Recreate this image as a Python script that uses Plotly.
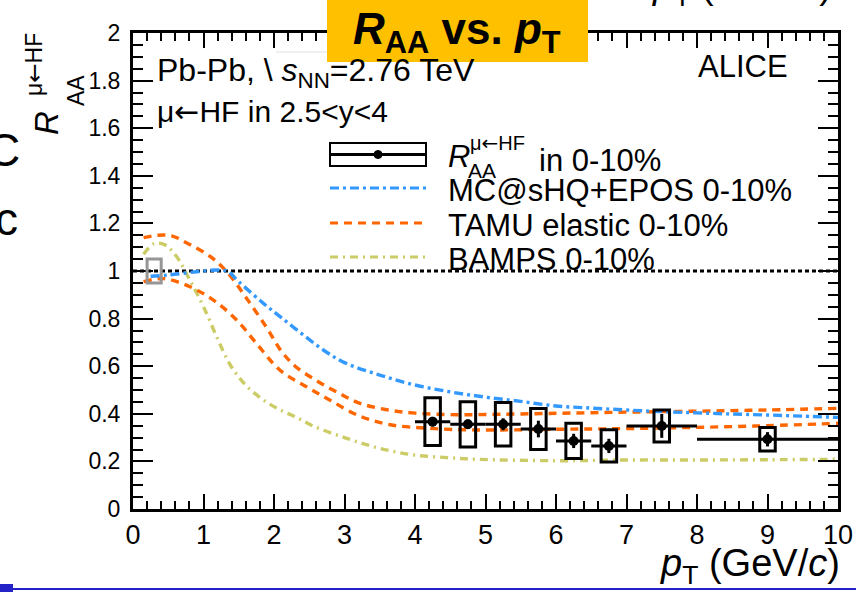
import plotly.graph_objects as go

# ---------------- data ----------------
pt = [4.25, 4.75, 5.25, 5.75, 6.25, 6.75, 7.5, 9.0]
pt_lo = [4.0, 4.5, 5.0, 5.5, 6.0, 6.5, 7.0, 8.0]
pt_hi = [4.5, 5.0, 5.5, 6.0, 6.5, 7.0, 8.0, 10.0]
raa = [0.367, 0.356, 0.356, 0.336, 0.286, 0.265, 0.349, 0.293]
stat = [0.02, 0.02, 0.025, 0.035, 0.03, 0.03, 0.05, 0.03]
syst = [0.100, 0.095, 0.091, 0.086, 0.074, 0.068, 0.067, 0.049]
syst_halfwidth = 0.11

norm_pt = [0.2, 0.4]
norm_raa = [0.95, 1.05]

mc_pt = [0.25, 0.5, 0.9, 1.2, 1.35, 1.5, 1.85, 2.1, 2.4, 2.7, 3.0, 3.5, 4.0, 4.5, 5.0, 5.5,
         6.0, 6.5, 7.0, 7.5, 8.0, 8.5, 9.0, 9.5, 10.0]
mc_raa = [0.978, 0.983, 0.997, 1.004, 0.997, 0.955, 0.864, 0.805, 0.735, 0.668, 0.615, 0.563,
          0.521, 0.492, 0.470, 0.452, 0.433, 0.424, 0.416, 0.409, 0.404, 0.399, 0.395, 0.390, 0.385]

tamu_up_pt = [0.15, 0.35, 0.55, 0.75, 1.1, 1.35, 1.6, 1.9, 2.1, 2.3, 2.6, 2.9, 3.2, 3.6, 4.0,
              4.6, 5.0, 6.0, 7.0, 8.0, 9.0, 10.0]
tamu_up_raa = [1.140, 1.150, 1.148, 1.120, 1.060, 0.990, 0.890, 0.760, 0.665, 0.600, 0.540,
               0.490, 0.446, 0.417, 0.403, 0.396, 0.397, 0.402, 0.407, 0.411, 0.416, 0.423]

tamu_lo_pt = [0.15, 0.43, 0.8, 1.14, 1.47, 1.75, 2.09, 2.46, 2.79, 3.22, 3.65, 4.2, 4.87,
              6.0, 7.0, 8.0, 9.0, 10.0]
tamu_lo_raa = [0.955, 0.968, 0.935, 0.878, 0.794, 0.696, 0.582, 0.514, 0.458, 0.390, 0.354,
               0.339, 0.332, 0.335, 0.338, 0.343, 0.350, 0.360]

bamps_pt = [0.15, 0.3, 0.45, 0.62, 0.81, 1.0, 1.2, 1.38, 1.6, 1.85, 2.09, 2.32, 2.56, 3.03,
            3.5, 3.98, 4.45, 4.87, 6.0, 7.0, 8.0, 9.0, 10.0]
bamps_raa = [1.070, 1.115, 1.110, 1.060, 0.960, 0.850, 0.715, 0.605, 0.520, 0.458, 0.416,
             0.385, 0.348, 0.297, 0.255, 0.227, 0.216, 0.209, 0.203, 0.206, 0.206, 0.207, 0.209]

x_ticks = [0, 1, 2, 3, 4, 5, 6, 7, 8, 9, 10]
y_ticks = [0, 0.2, 0.4, 0.6, 0.8, 1, 1.2, 1.4, 1.6, 1.8, 2]

legend_labels = ["MC@sHQ+EPOS 0-10%", "TAMU elastic 0-10%", "BAMPS 0-10%"]

# ---------------- styles ----------------
W, H = 856, 592
ML, MR, MT, MB = 133, 18, 33, 83
PW, PH = W - ML - MR, H - MT - MB
FONT = "Liberation Sans, Arial, Helvetica, sans-serif"
BLUE = "rgb(51,153,255)"
ORANGE = "rgb(255,102,0)"
OLIVE = "rgb(204,204,102)"
DASH_BLUE = "9px,4px,3px,4px"
DASH_ORANGE = "8px,6px"
DASH_OLIVE = "8px,5px,2px,5px"
ARROW = "<span style='font-family:DejaVu Sans'>←</span>"
MUHF = "μ" + ARROW + "HF"


def px(xp):
    return (xp - ML) / PW


def py(yp):
    return (H - MB - yp) / PH


fig = go.Figure()

# reference line at 1
fig.add_trace(go.Scatter(x=[x_ticks[0], x_ticks[-1]], y=[1, 1], mode="lines",
                         line=dict(color="black", width=3, dash="4px,3px"), hoverinfo="skip"))

# models
for xs, ys, col, dash in [(bamps_pt, bamps_raa, OLIVE, DASH_OLIVE),
                          (tamu_lo_pt, tamu_lo_raa, ORANGE, DASH_ORANGE),
                          (tamu_up_pt, tamu_up_raa, ORANGE, DASH_ORANGE),
                          (mc_pt, mc_raa, BLUE, DASH_BLUE)]:
    fig.add_trace(go.Scatter(x=xs, y=ys, mode="lines", line_shape="spline",
                             line=dict(color=col, width=3.4, dash=dash), hoverinfo="skip"))

# data points
fig.add_trace(go.Scatter(
    x=pt, y=raa, mode="markers",
    marker=dict(color="black", size=10, symbol="circle"),
    error_x=dict(type="data", symmetric=False,
                 array=[h - p for h, p in zip(pt_hi, pt)],
                 arrayminus=[p - l for p, l in zip(pt, pt_lo)],
                 color="black", thickness=3, width=0),
    error_y=dict(type="data", array=stat, color="black", thickness=3, width=0),
))

shapes = []
# systematic boxes
for p, r, s in zip(pt, raa, syst):
    shapes.append(dict(type="rect", xref="x", yref="y", x0=p - syst_halfwidth, x1=p + syst_halfwidth,
                       y0=r - s, y1=r + s, line=dict(color="black", width=3)))
# normalisation box
shapes.append(dict(type="rect", xref="x", yref="y", x0=norm_pt[0], x1=norm_pt[1],
                   y0=norm_raa[0], y1=norm_raa[1], line=dict(color="rgb(150,150,150)", width=3)))

# legend
lx0, lx1 = 330, 426
shapes.append(dict(type="rect", xref="paper", yref="paper", x0=px(lx0), x1=px(lx1),
                   y0=py(166), y1=py(143), line=dict(color="black", width=2)))
shapes.append(dict(type="line", xref="paper", yref="paper", x0=px(lx0), x1=px(lx1),
                   y0=py(154.5), y1=py(154.5), line=dict(color="black", width=3)))
shapes.append(dict(type="circle", xref="paper", yref="paper", x0=px(374), x1=px(382),
                   y0=py(158.5), y1=py(150.5), fillcolor="black", line=dict(color="black", width=1)))
leg_rows = [188, 223, 257]
for yy, col, dash in zip(leg_rows, [BLUE, ORANGE, OLIVE], [DASH_BLUE, DASH_ORANGE, DASH_OLIVE]):
    shapes.append(dict(type="line", xref="paper", yref="paper", x0=px(lx0), x1=px(lx1),
                       y0=py(yy), y1=py(yy), line=dict(color=col, width=3, dash=dash)))

# faint sqrt bar
shapes.append(dict(type="line", xref="paper", yref="paper", x0=px(276), x1=px(480),
                   y0=py(52), y1=py(52), line=dict(color="rgb(225,225,225)", width=1)))

# title box
shapes.append(dict(type="rect", xref="paper", yref="paper", x0=px(327), x1=px(588),
                   y0=py(62), y1=py(-2), fillcolor="rgb(255,192,0)", line=dict(width=0),
                   layer="above"))
# bottom blue slide line
shapes.append(dict(type="line", xref="paper", yref="paper", x0=px(0), x1=px(W),
                   y0=py(589), y1=py(589), line=dict(color="rgb(35,35,200)", width=2)))
shapes.append(dict(type="rect", xref="paper", yref="paper", x0=px(0), x1=px(13),
                   y0=py(592), y1=py(584), fillcolor="rgb(35,35,200)", line=dict(width=0)))

ann = []


def A(text, xp, yp, size, xanchor="left", yanchor="middle", font=FONT, angle=0, color="black"):
    ann.append(dict(text=text, xref="paper", yref="paper", x=px(xp), y=py(yp),
                    xanchor=xanchor, yanchor=yanchor, showarrow=False, textangle=angle,
                    font=dict(family=font, size=size, color=color)))


A("Pb-Pb, \\ <i>s</i><sub>NN</sub>=2.76 TeV", 155, 72, 32)
A(MUHF + " in 2.5<y<4", 155, 112, 30)
A("ALICE", 790, 67, 31, xanchor="right")

# legend text
A("<i>R</i>", 446, 156, 31)
A("AA", 466, 171, 21)
A(MUHF, 468, 143, 20)
A("in 0-10%", 537, 160, 31)
for yy, lab in zip(leg_rows, legend_labels):
    A(lab, 446, yy + 2, 31)

# y-axis title (stacked sub/superscript)
A("<i>R</i>", 46, 123, 33, xanchor="center", angle=-90)
A("AA", 76, 91, 23, xanchor="center", angle=-90)
A(MUHF, 34, 65, 23, xanchor="center", angle=-90)

# x-axis title
xt = "<i>p</i><sub>T</sub> (GeV/<i>c</i>)"
A(xt, 842, 566, 38, xanchor="right")
# cropped neighbouring title at the very top
A(xt, 834, -12, 38, xanchor="right")

# title box text
A("<b><i>R</i><sub>AA</sub> vs. <i>p</i><sub>T</sub></b>", 457, 32, 44, xanchor="center")

# stray slide letters on the left
A("C", 22, 150, 46, xanchor="right")
A("c", 20, 219, 46, xanchor="right")

fig.update_layout(
    width=W, height=H, margin=dict(l=ML, r=MR, t=MT, b=MB, pad=0, autoexpand=False),
    paper_bgcolor="white", plot_bgcolor="white", showlegend=False,
    shapes=shapes, annotations=ann,
    xaxis=dict(range=[0, 10], tickvals=x_ticks, ticktext=[str(v) for v in x_ticks],
               automargin=False,
               ticks="inside", ticklen=15, tickwidth=2, tickcolor="black",
               showline=True, linewidth=3, linecolor="black", mirror="ticks",
               showgrid=False, zeroline=False,
               minor=dict(dtick=0.2, ticks="inside", ticklen=8, tickwidth=2, tickcolor="black",
                          showgrid=False),
               tickfont=dict(family=FONT, size=27, color="black"), ticklabelstandoff=0),
    yaxis=dict(range=[0, 2], tickvals=y_ticks, ticktext=[f"{v:g}" for v in y_ticks],
               automargin=False,
               ticks="inside", ticklen=20, tickwidth=2, tickcolor="black",
               showline=True, linewidth=3, linecolor="black", mirror="ticks",
               showgrid=False, zeroline=False,
               minor=dict(dtick=0.05, ticks="inside", ticklen=10, tickwidth=2, tickcolor="black",
                          showgrid=False),
               tickfont=dict(family=FONT, size=23, color="black"), ticklabelstandoff=5),
)

fig.write_html("out.html")
